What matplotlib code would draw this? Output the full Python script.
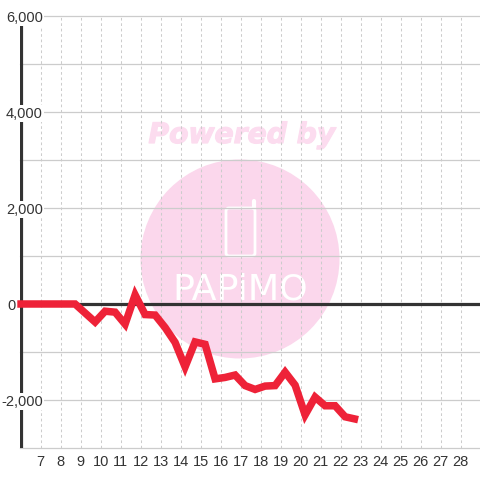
import matplotlib
matplotlib.use("Agg")
import matplotlib.pyplot as plt
import matplotlib.patheffects as pe
from matplotlib.patches import Circle, FancyBboxPatch

plt.rcParams['font.family'] = ['Liberation Sans', 'DejaVu Sans']

# data
days = [5.83, 8.72, 9.72, 10.22, 10.72, 11.22, 11.72, 12.22, 12.72, 13.22, 13.72, 14.22,
        14.72, 15.22, 15.72, 16.22, 16.72, 17.22, 17.72, 18.22, 18.72, 19.22, 19.72,
        20.22, 20.72, 21.22, 21.72, 22.22, 22.87]
values = [0, 0, -375, -150, -170, -420, 190, -220, -230, -490, -800, -1310,
          -790, -840, -1560, -1530, -1480, -1700, -1780, -1710, -1700, -1420, -1690,
          -2310, -1940, -2120, -2120, -2350, -2410]
x_ticks = list(range(7, 29))
y_ticks = [6000, 4000, 2000, 0, -2000]
y_labels = ['6,000', '4,000', '2,000', '0', '-2,000']
y_label_right = [43, 43, 43, 16, 43]
y_minor = [5000, 3000, 1000, -1000, -3000]

fig = plt.figure(figsize=(4.8, 4.8), dpi=100)

# watermark, in pixel coords
bg = fig.add_axes([0, 0, 1, 1])
bg.set_xlim(0, 480)
bg.set_ylim(480, 0)
bg.axis('off')
bg.add_patch(Circle((240, 259), 99.5, fc='#fbd7ec', ec='none'))
bg.text(242, 135, 'Powered by', color='#fcdcef', fontsize=20.3, family='DejaVu Sans',
        weight='bold', style='italic', ha='center', va='center',
        path_effects=[pe.withStroke(linewidth=0.9, foreground='#fcdcef')])
bg.add_patch(FancyBboxPatch((226, 208), 29, 48, boxstyle='round,pad=0,rounding_size=3',
                            fc='none', ec='white', lw=2.0))
bg.plot([254, 254], [208, 200.5], color='white', lw=3, solid_capstyle='round')
bg.text(240, 290, 'PAPiMO', color='white', fontsize=26.2, family='Liberation Sans Narrow',
        ha='center', va='center')

ax = fig.add_axes([20 / 480, 32 / 480, 460 / 480, 432 / 480])
ax.patch.set_alpha(0)
ax.set_xlim(5.965, 28.965)
ax.set_ylim(-3000, 6000)
for s in ax.spines.values():
    s.set_visible(False)

for x in x_ticks:
    ax.axvline(x, color='#cccccc', lw=0.75, ls=(0, (2.6, 2.6)), zorder=1)
for y in y_ticks + y_minor:
    ax.axhline(y, color='#cccccc', lw=0.9, zorder=1, clip_on=False)

ax.axvline(6, color='#333333', lw=2.3, zorder=2)
ax.axhline(0, color='#333333', lw=2.3, zorder=3)
ax.plot(days, values, color='#ee2238', lw=5.4, zorder=5, clip_on=False,
        solid_joinstyle='miter', solid_capstyle='butt')

ax.set_xticks(x_ticks)
ax.set_yticks([])
ax.tick_params(axis='x', length=0, pad=5, labelsize=10.5, labelcolor='#333333')

trans = ax.get_yaxis_transform()
for y, lab, right in zip(y_ticks, y_labels, y_label_right):
    ax.text((right - 20) / 460, y, lab, transform=trans, ha='right', va='center_baseline',
            fontsize=10.5, color='#333333', zorder=4, clip_on=False,
            bbox=dict(fc='white', ec='none', pad=1))

fig.savefig('out.png', dpi=100)
